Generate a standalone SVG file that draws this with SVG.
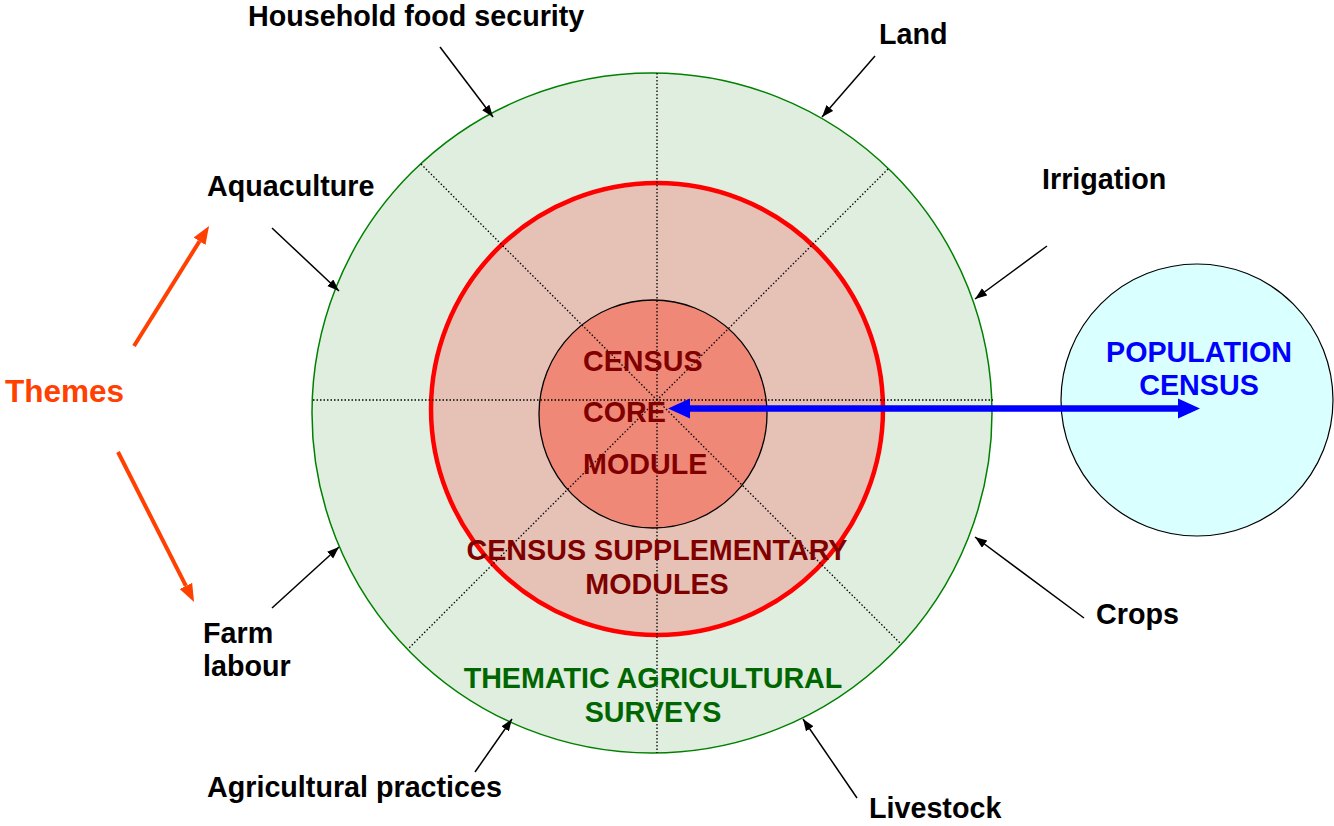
<svg xmlns="http://www.w3.org/2000/svg" width="1334" height="826" viewBox="0 0 1334 826">
<defs>
<marker id="ah" markerUnits="userSpaceOnUse" markerWidth="14" markerHeight="12" refX="12" refY="4.5" orient="auto"><path d="M0,0 L12,4.5 L0,9 z" fill="#000"/></marker>
<marker id="oh" markerUnits="userSpaceOnUse" markerWidth="20" markerHeight="16" refX="0" refY="7" orient="auto"><path d="M0,0 L18,7 L0,14 z" fill="#FF4000"/></marker>
</defs>
<style>
.lbl{font-family:"Liberation Sans",Arial,sans-serif;font-weight:bold;font-size:28.7px;fill:#000}
.core{font-family:"Liberation Sans",Arial,sans-serif;font-weight:bold;font-size:28.7px;fill:#800000}
.grn{font-family:"Liberation Sans",Arial,sans-serif;font-weight:bold;font-size:28.7px;fill:#006600}
.pop{font-family:"Liberation Sans",Arial,sans-serif;font-weight:bold;font-size:28.7px;fill:#0000FF}
.thm{font-family:"Liberation Sans",Arial,sans-serif;font-weight:bold;font-size:31.5px;fill:#FF4000}
.dot{stroke:#000;stroke-width:1.3;stroke-dasharray:1.5 2;fill:none}
.blk{stroke:#000;stroke-width:1.5;fill:none;marker-end:url(#ah)}
.org{stroke:#FF4000;stroke-width:4;fill:none;marker-end:url(#oh)}
</style>
<g id="thematic-surveys">
<circle cx="652" cy="413" r="340" fill="#E0EEDF" stroke="#008000" stroke-width="1.5"/>
</g>
<g id="supplementary-modules">
<circle cx="657" cy="409" r="226" fill="#E5C2B5" stroke="#FF0000" stroke-width="4.5"/>
</g>
<g id="core-module">
<circle cx="653" cy="414" r="114" fill="#F08878" stroke="#000" stroke-width="1.3"/>
</g>
<g id="population-census">
<circle cx="1197" cy="400" r="136" fill="#D9FFFF" stroke="#000" stroke-width="1.2"/>
<text class="pop" x="1199" y="362" text-anchor="middle">POPULATION</text>
<text class="pop" x="1199" y="395" text-anchor="middle">CENSUS</text>
</g>
<g id="sector-lines">
<line class="dot" x1="313" y1="400" x2="993" y2="400"/>
<line class="dot" x1="657" y1="73" x2="657" y2="753"/>
<line class="dot" x1="421" y1="164" x2="901" y2="644"/>
<line class="dot" x1="888" y1="169" x2="408" y2="649"/>
</g>
<g id="core-text">
<text class="core" x="583" y="371">CENSUS</text>
<text class="core" x="583" y="422">CORE</text>
<text class="core" x="583" y="474">MODULE</text>
</g>
<g id="supplementary-text">
<text class="core" x="657" y="560" text-anchor="middle">CENSUS SUPPLEMENTARY</text>
<text class="core" x="657" y="594" text-anchor="middle">MODULES</text>
</g>
<g id="thematic-text">
<text class="grn" x="653" y="688" text-anchor="middle">THEMATIC AGRICULTURAL</text>
<text class="grn" x="653" y="722" text-anchor="middle">SURVEYS</text>
</g>
<g id="theme-labels">
<text class="lbl" x="248" y="26">Household food security</text>
<text class="lbl" x="879" y="44">Land</text>
<text class="lbl" x="1042" y="189">Irrigation</text>
<text class="lbl" x="207" y="196">Aquaculture</text>
<text class="lbl" x="1096" y="624">Crops</text>
<text class="lbl" x="203" y="643">Farm</text>
<text class="lbl" x="203" y="676">labour</text>
<text class="lbl" x="207" y="797">Agricultural practices</text>
<text class="lbl" x="869" y="818">Livestock</text>
</g>
<g id="themes">
<text class="thm" x="5" y="402">Themes</text>
</g>
<g id="connectors">
<line class="blk" x1="440" y1="47" x2="493" y2="117"/>
<line class="blk" x1="875" y1="56" x2="822" y2="117"/>
<line class="blk" x1="272" y1="228" x2="339" y2="291"/>
<line class="blk" x1="272" y1="608" x2="339" y2="547"/>
<line class="blk" x1="1047" y1="246" x2="975" y2="299"/>
<line class="blk" x1="1084" y1="618" x2="975" y2="537"/>
<line class="blk" x1="475" y1="772" x2="512" y2="719"/>
<line class="blk" x1="857" y1="798" x2="803" y2="719"/>
<line class="org" x1="134" y1="346" x2="199.5" y2="241.3"/>
<line class="org" x1="118" y1="452" x2="185.9" y2="585.9"/>
<line x1="689" y1="408.5" x2="1179" y2="408.5" stroke="#0000FF" stroke-width="6.5"/>
<polygon points="668,408.5 690,398.5 690,418.5" fill="#0000FF"/>
<polygon points="1200,408.5 1178,398.5 1178,418.5" fill="#0000FF"/>
</g>
</svg>
